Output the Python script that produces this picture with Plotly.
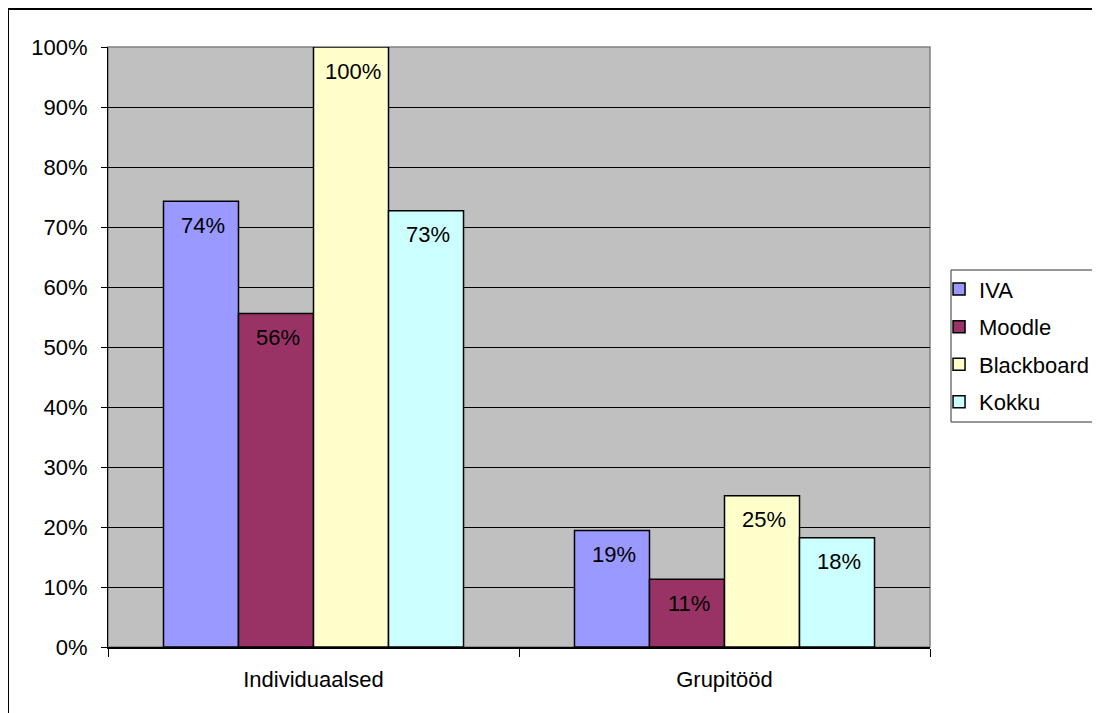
import plotly.graph_objects as go

categories = ["Individuaalsed", "Grupitööd"]
series_names = ["IVA", "Moodle", "Blackboard", "Kokku"]
iva = [0.743, 0.194]
moodle = [0.556, 0.113]
blackboard = [1.0, 0.252]
kokku = [0.727, 0.182]
colors = ["#9999FF", "#993366", "#FFFFCC", "#CCFFFF"]
y_ticks = [0, 0.1, 0.2, 0.3, 0.4, 0.5, 0.6, 0.7, 0.8, 0.9, 1.0]

FONT = "Liberation Sans, Arial, sans-serif"
FS = 22
BARGAP = 0.27

all_series = [iva, moodle, blackboard, kokku]
fig = go.Figure()
for j, (name, vals, col) in enumerate(zip(series_names, all_series, colors)):
    fig.add_trace(go.Bar(
        name=name, x=categories, y=vals,
        marker=dict(color=col, line=dict(color="black", width=1.5)),
        legendgroup=name,
    ))
    for i, v in enumerate(vals):
        fig.add_annotation(
            x=i + (j - 1.5) * (1 - BARGAP) / 4, y=v, xref="x", yref="y",
            text=f"{round(v * 100)}%", showarrow=False,
            yanchor="middle", yshift=-24, xshift=2,
            font=dict(family=FONT, size=FS, color="black"),
        )

fig.update_layout(
    width=1100, height=713,
    barmode="group", bargap=BARGAP, bargroupgap=0,
    plot_bgcolor="#C0C0C0", paper_bgcolor="white",
    margin=dict(l=100, r=178, t=39, b=74, autoexpand=False),
    font=dict(family=FONT, size=FS, color="black"),
    legend=dict(
        xref="container", yref="container",
        x=0.8464, y=0.635, xanchor="left", yanchor="top",
        borderwidth=0, bgcolor="rgba(0,0,0,0)",
        font=dict(family=FONT, size=FS, color="black"),
        tracegroupgap=6,
    ),
    showlegend=True,
)
fig.update_xaxes(
    showline=True, linecolor="black", linewidth=1.5,
    ticks="outside", ticklen=8, tickcolor="black", tickson="boundaries",
    showgrid=False, ticklabelstandoff=12,
)
fig.update_yaxes(
    range=[0, 1], tickvals=y_ticks, tickformat=".0%",
    showline=True, linecolor="black", linewidth=1,
    ticks="outside", ticklen=6, tickcolor="black",
    showgrid=True, gridcolor="black", gridwidth=1,
    zeroline=False, ticklabelstandoff=9,
)


def px(x):
    return (x - 108) / 822


def py(y):
    return (647 - y) / 600


# plot area border (grey)
fig.add_shape(
    type="rect", xref="paper", yref="paper", x0=0, x1=1, y0=0, y1=1,
    line=dict(color="#808080", width=1.5), fillcolor="rgba(0,0,0,0)",
    layer="below",
)
# legend box (left, top, bottom edges; right edge lies beyond the image)
for (xa, ya, xb, yb) in [(951, 270, 951, 422), (951, 270, 1100, 270), (951, 422, 1100, 422)]:
    fig.add_shape(type="line", xref="paper", yref="paper",
                  x0=px(xa), y0=py(ya), x1=px(xb), y1=py(yb),
                  line=dict(color="#333333", width=1))
# outer chart frame (top and left edges)
for (xa, ya, xb, yb) in [(8, 9, 8, 713), (8, 9, 1100, 9)]:
    fig.add_shape(type="line", xref="paper", yref="paper",
                  x0=px(xa), y0=py(ya), x1=px(xb), y1=py(yb),
                  line=dict(color="black", width=2))
fig.write_html("out.html")
